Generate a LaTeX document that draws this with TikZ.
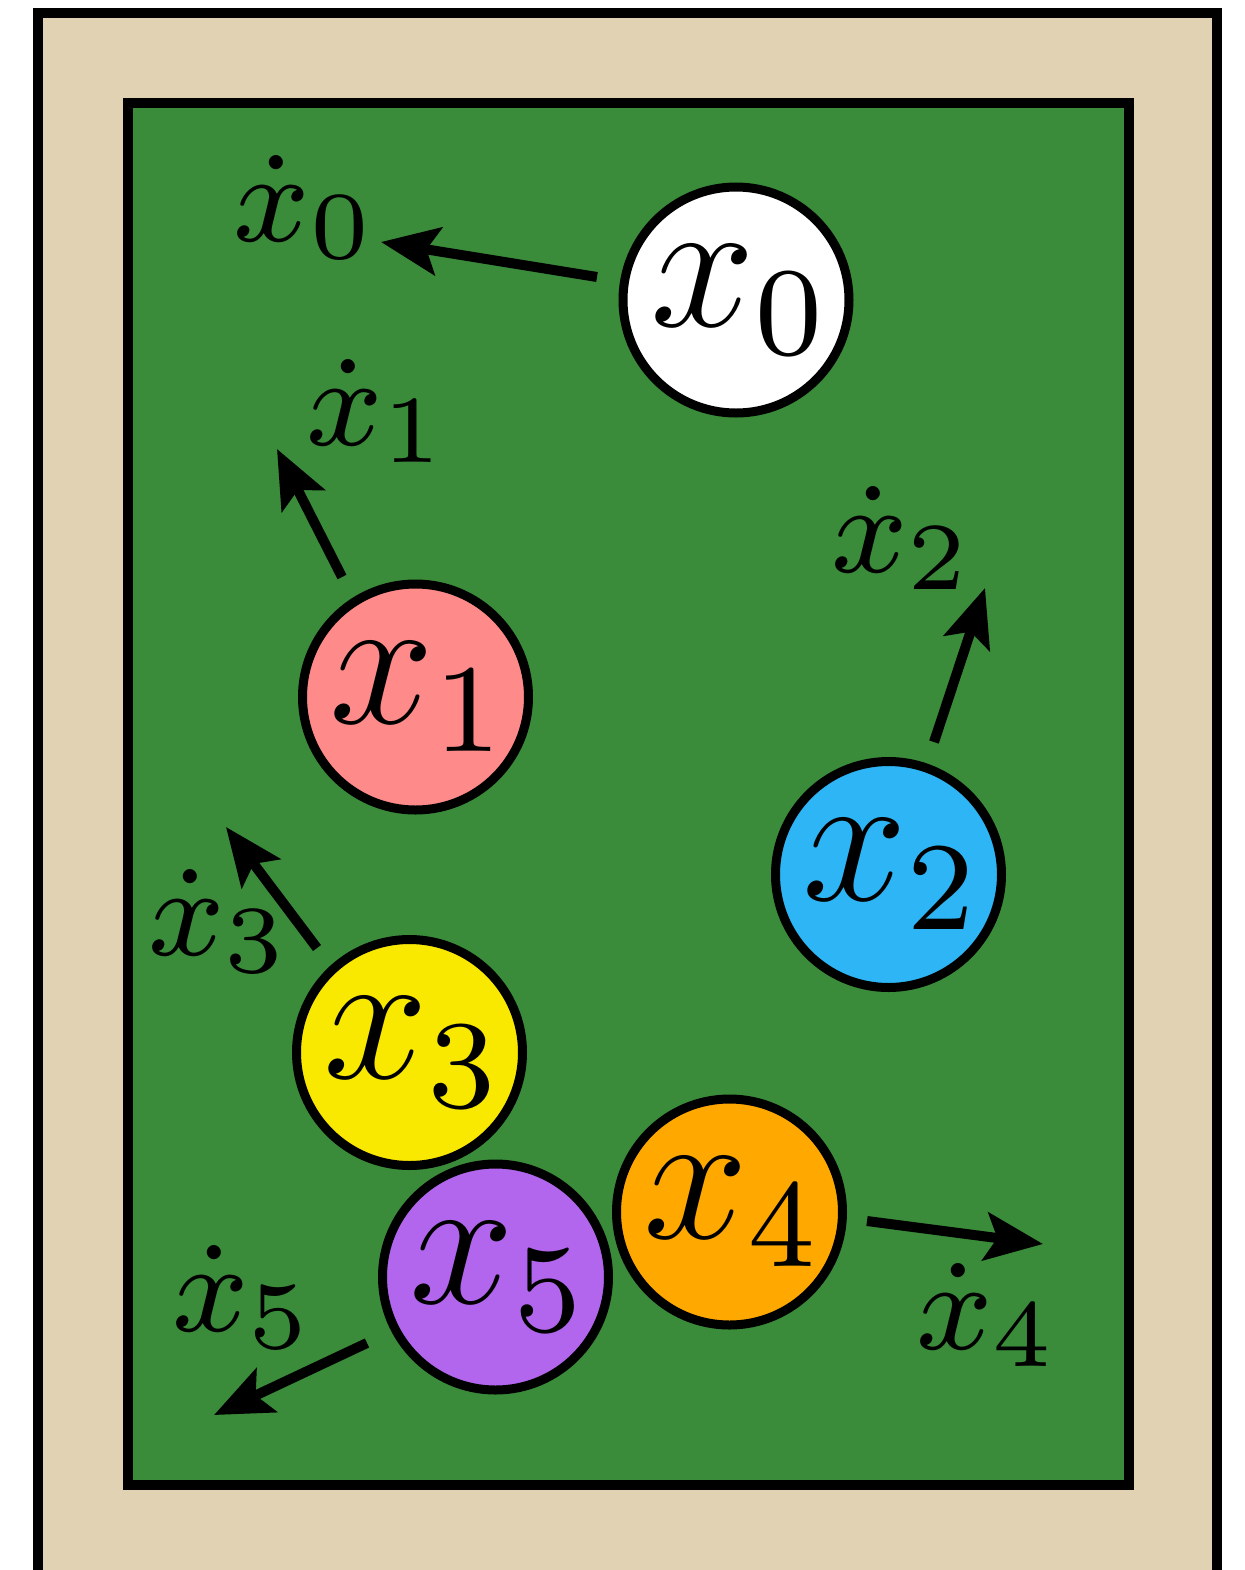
\documentclass[tikz,border=0pt]{standalone}
\usepackage{graphicx}
\usetikzlibrary{arrows.meta}
\definecolor{frametan}{HTML}{E0D2B2}
\definecolor{felt}{HTML}{3A8C3A}
\definecolor{cpink}{HTML}{FF8A8A}
\definecolor{cblue}{HTML}{2DB5F5}
\definecolor{cyellow}{HTML}{F9E800}
\definecolor{corange}{HTML}{FFA800}
\definecolor{cpurple}{HTML}{B266EE}
\newcommand{\balltext}[1]{\hspace{4pt}\scalebox{7.85}{\large$#1$}}
\newcommand{\veltext}[1]{\scalebox{8}{\footnotesize$#1$}}
\tikzset{
  ball/.style={circle, draw=black, line width=4.5pt, minimum size=113pt, inner sep=0pt},
  vellabel/.style={inner sep=0pt},
  vec/.style={line width=5pt, -{Stealth[length=29pt,width=24pt,inset=6pt]}},
  frame/.style={draw=black, line width=5pt}
}
\begin{document}
\begin{tikzpicture}[x=0.5pt,y=-0.5pt]
\clip (0,0) rectangle (1245,1570);
\fill[white] (0,0) rectangle (1245,1570);
\draw[frame, fill=frametan] (38,13) rectangle (1217,1640);
\draw[frame, fill=felt] (127.5,102.5) rectangle (1128.5,1485);

\node[ball, fill=white]   (b0) at (736,300)    {\balltext{x_0}};
\node[ball, fill=cpink]   (b1) at (415.5,697)  {\balltext{x_1}};
\node[ball, fill=cblue]   (b2) at (888.5,874.5) {\balltext{x_2}};
\node[ball, fill=cyellow] (b3) at (409.5,1052.5) {\balltext{x_3}};
\node[ball, fill=corange] (b4) at (729.5,1212) {\balltext{x_4}};
\node[ball, fill=cpurple] (b5) at (495.5,1277) {\balltext{x_5}};

\node[vellabel] (l0) at (305.5,207) {\veltext{\dot{x}_0}};
\node[vellabel] (l1) at (378,411) {\veltext{\dot{x}_1}};
\node[vellabel] (l2) at (903,538) {\veltext{\dot{x}_2}};
\node[vellabel] (l3) at (220,921) {\veltext{\dot{x}_3}};
\node[vellabel] (l4) at (988,1315) {\veltext{\dot{x}_4}};
\node[vellabel] (l5) at (244,1297) {\veltext{\dot{x}_5}};

\coordinate (s0) at (597,277);   \coordinate (t0) at (381,242);
\coordinate (s1) at (342,577);   \coordinate (t1) at (277,449);
\coordinate (s2) at (934,742);   \coordinate (t2) at (985,588);
\coordinate (s3) at (317,948);   \coordinate (t3) at (226,827);
\coordinate (s4) at (867,1221);  \coordinate (t4) at (1043,1244);
\coordinate (s5) at (367,1343);  \coordinate (t5) at (214,1415);

\draw[vec] (s0) -- (t0);
\draw[vec] (s1) -- (t1);
\draw[vec] (s2) -- (t2);
\draw[vec] (s3) -- (t3);
\draw[vec] (s4) -- (t4);
\draw[vec] (s5) -- (t5);
\end{tikzpicture}
\end{document}
